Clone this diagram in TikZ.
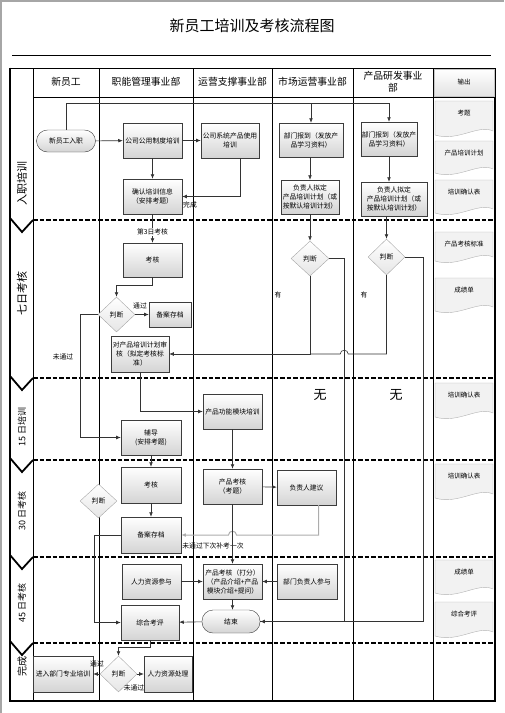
\documentclass[tikz,border=0pt]{standalone}
\usepackage{fontspec}
\setmainfont{Noto Sans CJK SC}
\usetikzlibrary{arrows.meta,shapes.geometric}
\definecolor{edgegray}{HTML}{3C3C3C}
\definecolor{shadegray}{HTML}{D4D4D4}
\newcommand{\nodefont}{\fontsize{6.8}{9}\selectfont}
\newcommand{\outdoc}[4]{%
  \draw[docpath] (435,#2) -- (493,#2) -- (493,#3-6) .. controls (478,#3-13) and (458,#3+5) .. (435,#3-2) -- cycle;
  \node[doctext] (#1) at (464,#2+12) {#4};}

\begin{document}
\begin{tikzpicture}[x=1pt,y=-1pt,
    box/.style={draw=edgegray,top color=white,bottom color=shadegray,font=\nodefont,align=center,inner sep=1pt,minimum width=59pt,minimum height=35pt},
    term/.style={box,rounded corners=11pt,minimum height=22pt},
    decision/.style={diamond,draw=gray!70,top color=white,bottom color=gray!20,font=\nodefont,inner sep=0pt,minimum width=37pt,minimum height=35pt},
    head/.style={font=\fontsize{9.8}{12}\selectfont,align=center},
    outhead/.style={draw=gray!45,top color=white,bottom color=gray!22,minimum width=60pt,minimum height=27pt,font=\fontsize{6.5}{8}\selectfont},
    phaselbl/.style={rotate=90,font=\fontsize{11}{13}\selectfont},
    lbl/.style={font=\nodefont,inner sep=1pt},
    conn/.style={draw=black!80,line width=.6pt},
    arr/.style={conn,-{Latex[length=1.6mm,width=1.3mm]}},
    retake/.style={arr,draw=gray!65,line width=1pt},
    lane/.style={line width=.7pt},
    rowsep/.style={line width=1.6pt,dash pattern=on 4.5pt off 2pt},
    chev/.style={line width=1.8pt},
    docpath/.style={draw=gray!60,fill=gray!10},
    doctext/.style={font=\fontsize{6.5}{8}\selectfont}
]
\useasboundingbox (0,0) rectangle (504,713);
\draw[gray!70,line width=1.5pt] (1,713) -- (1,1) -- (504,1);

% title
\node[font=\fontsize{15}{18}\selectfont] (title) at (252,26) {新员工培训及考核流程图};
\draw[line width=.8pt] (12,55) -- (491,55);

% lanes and phases
\draw[line width=1pt] (10,68) -- (495,68);
\draw[line width=1.1pt] (495,68) -- (495,701);
\draw[line width=.7pt] (33,97) -- (495,97);
\foreach \x in {33,99,193,272,353,433} \draw[lane] (\x,68) -- (\x,701);
\foreach \y in {220,378,460,557,643} {
  \draw[rowsep] (33,\y) -- (495,\y);
  \draw[chev] (10,\y-2) -- (22,\y+12) -- (33,\y);
}
\draw[line width=2pt] (10,67.5) -- (10,701);
\draw[line width=1.6pt] (9,701) -- (495.5,701);

\node[head] (hStaff) at (66,82) {新员工};
\node[head] (hFunc) at (146,82) {职能管理事业部};
\node[head] (hOps) at (232.5,82) {运营支撑事业部};
\node[head] (hMkt) at (312.5,82) {市场运营事业部};
\node[head] (hProd) at (393,82) {产品研发事业\\部};
\node[outhead] (hOut) at (464,82.5) {输出};

\node[phaselbl] (ph1) at (22,183) {入职培训};
\node[phaselbl] (ph2) at (22,293) {七日考核};
\node[phaselbl,font=\fontsize{9}{11}\selectfont] (ph3) at (22,427) {15 日培训};
\node[phaselbl,font=\fontsize{9}{11}\selectfont] (ph4) at (22,511) {30 日考核};
\node[phaselbl,font=\fontsize{9}{11}\selectfont] (ph5) at (22,603) {45 日考核};
\node[phaselbl,font=\fontsize{10}{12}\selectfont] (ph6) at (22,666) {完成};

% outputs
\outdoc{oExam}{101}{137}{考题}
\outdoc{oPlan}{141}{175}{产品培训计划}
\outdoc{oConfirmA}{180}{215}{培训确认表}
\outdoc{oStandard}{232}{263}{产品考核标准}
\outdoc{oScoreA}{278}{313}{成绩单}
\outdoc{oConfirmB}{383}{419}{培训确认表}
\outdoc{oConfirmC}{464}{500}{培训确认表}
\outdoc{oScoreB}{560}{595}{成绩单}
\outdoc{oSummary}{602}{638}{综合考评}

% entry
\node[term] (nEntry) at (66,141) {新员工入职};
\node[box] (nPolicy) at (152.5,140.5) {公司公用制度培训};
\node[box,minimum width=58pt] (nSystem) at (230,140.5) {公司系统产品使用\\培训};
\node[box] (nConfirm) at (152.5,196.5) {确认培训信息\\（安排考题）};
\node[box,minimum width=64pt,minimum height=34pt] (mReport) at (311,140) {部门报到（发放产\\品学习资料）};
\node[box,minimum width=58pt,minimum height=34pt] (mPlan) at (310,197) {负责人拟定\\产品培训计划（或\\按默认培训计划）};
\node[box,minimum width=56pt,minimum height=34pt] (pReport) at (389,139) {部门报到（发放产\\品学习资料）};
\node[box,minimum width=66pt,minimum height=34pt] (pPlan) at (394,199) {负责人拟定\\产品培训计划（或\\按默认培训计划）};

% day 7
\node[box,minimum height=34pt] (nExam7) at (152.5,260) {考核};
\node[decision] (nJudge7) at (116.5,314.5) {判断};
\node[box,minimum width=42pt,minimum height=25pt] (nFile7) at (170,314.5) {备案存档};
\node[box,minimum width=58pt,minimum height=36pt] (nReview) at (140,354) {对产品培训计划审\\核（拟定考核标\\准）};
\node[decision,minimum width=38pt] (mJudge) at (310,258.5) {判断};
\node[decision,minimum height=36pt] (pJudge) at (386.5,257) {判断};

% day 15
\node[box] (nModule) at (232.5,411.5) {产品功能模块培训};
\node[box,minimum width=60pt] (nTutor) at (151,437.5) {辅导\\(安排考题)};

% day 30
\node[box,minimum width=60pt,minimum height=36pt] (nExam30) at (151,485) {考核};
\node[decision,minimum height=34pt] (nJudge30) at (98.5,501) {判断};
\node[box,minimum width=60pt,minimum height=36pt] (nFile30) at (151,535) {备案存档};
\node[box] (nExam30p) at (232.5,486.5) {产品考核\\（考题）};
\node[box] (nLead) at (306.5,487.5) {负责人建议};

% day 45
\node[box] (nHR) at (151.5,581.5) {人力资源参与};
\node[box] (nScore) at (232.5,581.5) {产品考核（打分）\\（产品介绍+产品\\模块介绍+提问）};
\node[box,minimum width=60pt] (nDeptLead) at (307,581.5) {部门负责人参与};
\node[term,minimum width=58pt,minimum height=23pt] (nEnd) at (231,621.5) {结束};
\node[box,minimum width=58pt] (nSummary) at (150,622.5) {综合考评};

% finish
\node[decision,minimum height=36pt] (nFinal) at (118.5,674) {判断};
\node[box,minimum width=60pt,minimum height=36pt] (nOnboard) at (63,674) {进入部门专业培训};
\node[box,minimum width=48pt,minimum height=36pt] (nHRDeal) at (168,674) {人力资源处理};

% connectors
\coordinate (bus) at (0,103);
\draw[arr] (nEntry.north) |- (pReport.north |- bus) -- (pReport.north);
\draw[arr] (mReport.north |- bus) -- (mReport.north);
\draw[arr] (nEntry) -- (nPolicy);
\draw[arr] (nPolicy) -- (nSystem);
\draw[arr] (nPolicy) -- (nConfirm);
\draw[arr] ([xshift=10pt]nSystem.south) |- (nConfirm.east);
\node[lbl] (lblDone) at (190,205) {完成};
\draw[arr] (mPlan.north |- mReport.south) -- (mPlan.north);
\draw[arr] (pReport.south) -- (pReport.south |- pPlan.north);

\draw[arr] (nConfirm) -- node[lbl,fill=white,pos=.62] (lbl3rd) {第3日考核} (nExam7);
\draw[arr] (nExam7.south) -- ++(0,8) -| (nJudge7.north);
\draw[arr] (nJudge7) -- (nFile7);
\node[lbl] (lblPass7) at (140,306) {通过};
\draw[arr] (nJudge7.west) -- ++(-18,0) |- (nTutor.west);
\node[lbl] (lblFail7) at (63,357) {未通过};
\draw[arr] (mPlan.south) -- (mPlan.south |- mJudge.north);
\draw[arr] (pJudge.north |- pPlan.south) -- (pJudge.north);
\coordinate (mDrop) at ([xshift=15pt]mJudge.east);
\coordinate (pDrop) at ([xshift=18pt]pJudge.east);
\coordinate (hopA) at (mDrop |- nReview.east);
\draw[arr] (mJudge.south) |- (nReview.east);
\draw[conn] (pJudge.south) |- ([xshift=4pt]hopA) .. controls ([xshift=4pt,yshift=5pt]hopA) and ([xshift=-4pt,yshift=5pt]hopA) .. ([xshift=-4pt]hopA) -- (mJudge.south |- nReview.east);
\node[lbl] (lblHasM) at (278,295) {有};
\node[lbl] (lblHasP) at (364,295) {有};
\draw[arr] (mJudge.east) -- (mDrop) |- (nEnd.east);
\draw[conn] (pJudge.east) -- (pDrop) |- (nEnd.east);
\node[lbl,font=\fontsize{13}{15}\selectfont] (lblNoneM) at (320,395) {无};
\node[lbl,font=\fontsize{13}{15}\selectfont] (lblNoneP) at (396,395) {无};

\draw[arr] (nReview.south) |- (nModule.west);
\draw[arr] (nTutor) -- (nExam30);
\draw[arr] (nExam30) -- (nFile30);
\draw[arr] (nFile30.west) -- ++(-27,0) |- (nSummary.west);
\draw[arr] (nModule) -- (nExam30p);
\draw[arr] (nExam30p) -- (nLead);
\coordinate (hopB) at (nExam30p.south |- nFile30.east);
\draw[retake] ([xshift=12pt]nLead.south) |- ([xshift=4pt]hopB) .. controls ([xshift=4pt,yshift=5pt]hopB) and ([xshift=-4pt,yshift=5pt]hopB) .. ([xshift=-4pt]hopB) -- (nFile30.east);
\node[lbl] (lblRetake) at (213,546) {未通过下次补考一次};

\draw[arr] (nExam30p.south) -- (nScore.north);
\draw[arr] (nHR) -- (nScore);
\draw[arr] (nDeptLead) -- (nScore);
\draw[arr] (nScore.south) -- (nScore.south |- nEnd.north);
\draw[arr] (nEnd) -- (nSummary);
\draw[arr] (nSummary.south) -- ++(0,7) -| (nFinal.north);
\draw[arr] (nFinal) -- (nOnboard);
\node[lbl] (lblPassF) at (97,664) {通过};
\draw[arr] (nFinal) -- (nHRDeal);
\node[lbl] (lblFailF) at (134,688) {未通过};
\end{tikzpicture}
\end{document}
